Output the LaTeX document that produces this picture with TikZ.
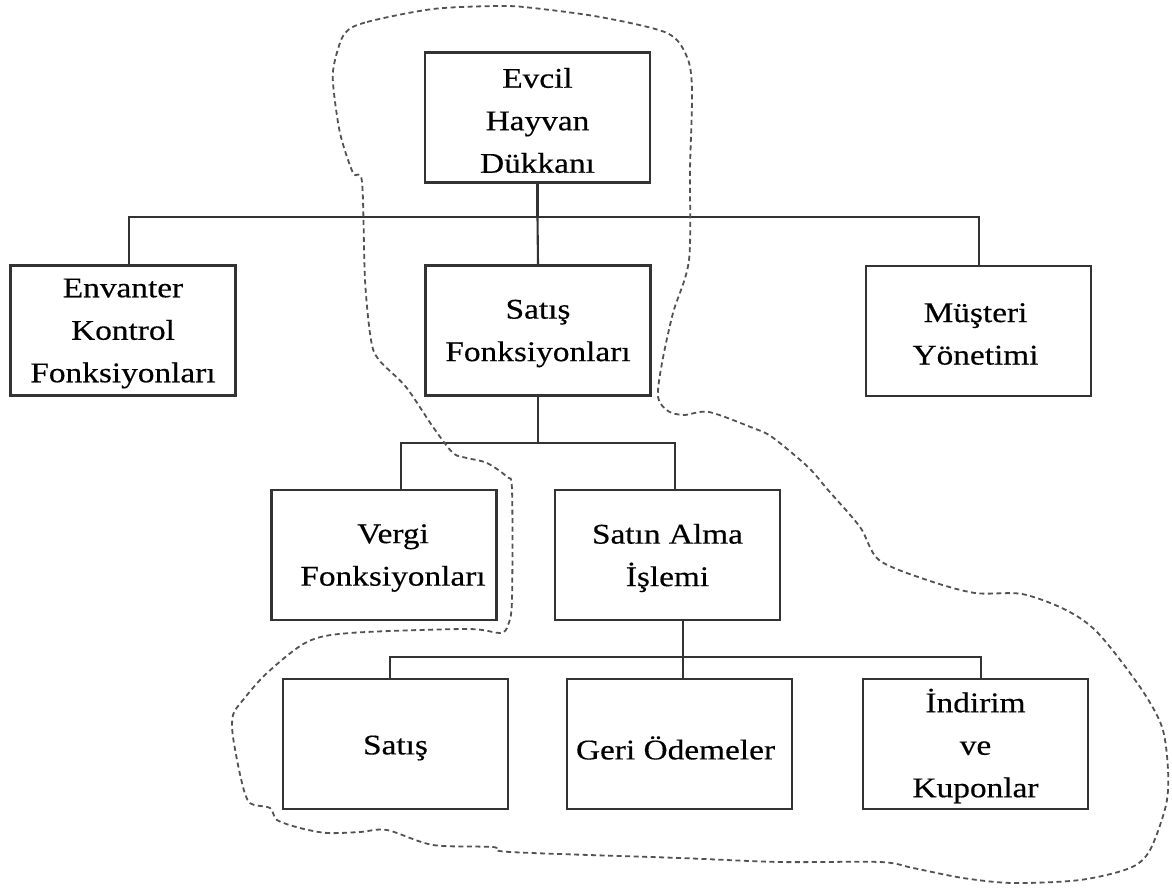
\documentclass[tikz,border=0pt]{standalone}
\usepackage{fontspec}
\setmainfont{Liberation Serif}[FakeStretch=1.17,FakeBold=0.4]
\begin{document}
\begin{tikzpicture}[x=1pt,y=-1pt,
  box/.style={draw=black!80, line width=2.3pt, minimum width=225pt, minimum height=130pt,
    inner sep=0pt},
  txt/.style={inner sep=0pt, align=center, font=\fontsize{28.5}{42.5}\selectfont},
  link/.style={draw=black!80, line width=2.1pt},
  group/.style={draw=black!68, line width=1.8pt, dash pattern=on 5pt off 3.5pt}]
\useasboundingbox (0,0) rectangle (1172,888);

% boxes, each with its caption set slightly below the centre
\node[box, label={[txt,yshift=-3pt]center:Evcil\\Hayvan\\Dükkanı}] (root) at (537.5,117.5) {};
\node[box, label={[txt,yshift=-3pt]center:Envanter\\Kontrol\\Fonksiyonları}] (env) at (123,330.5) {};
\node[box, label={[txt,yshift=-3pt]center:Satış\\Fonksiyonları}] (sat) at (538,330.5) {};
\node[box, label={[txt,xshift=-3pt,yshift=-3pt]center:Müşteri\\Yönetimi}] (mus) at (978.5,331) {};
\node[box, label={[txt,xshift=9pt,yshift=-3pt]center:Vergi\\Fonksiyonları}] (ver) at (384,555) {};
\node[box, label={[txt,yshift=-3pt]center:Satın Alma\\İşlemi}] (alm) at (667.5,555) {};
\node[box, label={[txt,yshift=-4pt]center:Satış}] (sts) at (395.5,744) {};
\node[box, label={[txt,xshift=-4pt,yshift=-4pt]center:Geri Ödemeler}] (ger) at (679.5,744) {};
\node[box, label={[txt,yshift=-2pt]center:İndirim\\ve\\Kuponlar}] (ind) at (975.5,744) {};

% tree connectors
\coordinate (b1) at (537.5,217);
\draw[link] (root.south) -- (b1);
\draw[link] ([xshift=6pt]env.north) |- (b1) -| ([xshift=0.5pt]mus.north);
\draw[link] (b1) -- (sat.north);

\coordinate (b2) at (538,443);
\draw[link] (sat.south) -- (b2);
\draw[link] ([xshift=17pt]ver.north) |- (b2) -| ([xshift=7.5pt]alm.north);

\coordinate (b3) at (683,657);
\draw[link] ([xshift=15.5pt]alm.south) -- (b3);
\draw[link] ([xshift=-5.5pt]sts.north) |- (b3) -| ([xshift=5.5pt]ind.north);
\draw[link] (b3) -- ([xshift=3.5pt]ger.north);

% dashed outline around the sales branch
\draw[group] plot[smooth cycle, tension=0.5] coordinates {
  (345,33) (367,22) (433,9) (500,6) (533,8) (600,17) (667,33) (687,57) (692,90)
  (690,170) (689,260) (673,313) (662,363) (658,397) (668,411) (684,415) (709,412)
  (753,428) (772,437) (808,467) (828,490) (860,527) (879,560) (927,580) (975,593)
  (1022,594) (1066,610) (1098,633) (1140,687) (1162,727) (1168,770) (1166,805)
  (1150,850) (1130,868) (1080,880) (1013,883) (963,878) (913,868) (880,862)
  (780,862) (680,858) (510,852) (493,847) (433,845) (387,830) (360,832) (327,833)
  (300,828) (277,820) (270,808) (250,803) (242,783) (233,737) (233,715) (243,700)
  (267,673) (307,642) (350,633) (467,629) (500,633) (508,625) (512,600) (512,490)
  (507,477) (487,463) (467,458) (453,453) (433,427) (406,387) (379,360) (371,340)
  (365,280) (362,182) (353,173) (340,133) (333,83) (335,60)};
\end{tikzpicture}
\end{document}
